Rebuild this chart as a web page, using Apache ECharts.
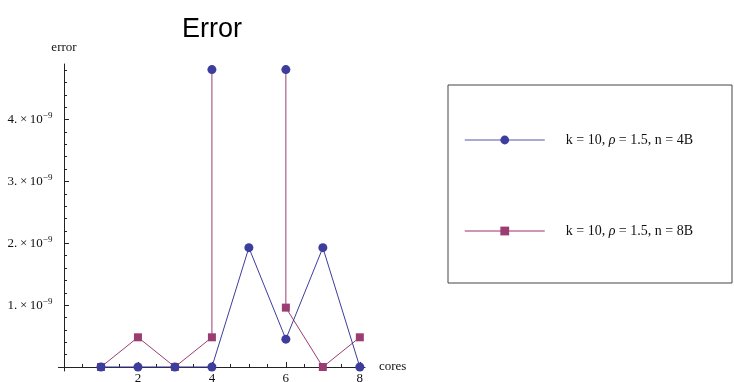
<!DOCTYPE html>
<html>
<head>
<meta charset="utf-8">
<script src="https://cdn.jsdelivr.net/npm/echarts@6/dist/echarts.min.js"></script>
<style>
  html, body { margin: 0; padding: 0; background: #fff; }
  #chart { width: 734px; height: 382px; }
</style>
</head>
<body>
<div id="chart"></div>
<script>
// Error per number of cores, two problem sizes
const cores = [1, 2, 3, 4, 5, 6, 7, 8];
const error4B = [0, 0, 0, 0, 1.93e-9, 0.45e-9, 1.93e-9, 0];
const error8B = [0, 0.48e-9, 0, 0.48e-9, null, 0.96e-9, 0, 0.48e-9];
// spikes: [core, low, high]
const spikes = [[4, 0.48e-9, 4.81e-9], [6, 0.96e-9, 4.81e-9]];
const seriesNames = ['k = 10, \u03c1 = 1.5, n = 4B', 'k = 10, \u03c1 = 1.5, n = 8B'];
const yMajor = [1e-9, 2e-9, 3e-9, 4e-9];
const xMajor = [2, 4, 6, 8];

const blue = '#3d3d9e';
const pink = '#9b3d72';
const blueLight = '#8c8cc8';
const pinkLight = '#c0709c';
const serif = 'Liberation Serif';

const yMinor = [];
for (let k = 1; k <= 24; k++) { if (k % 5 !== 0) yMinor.push(k * 0.2e-9); }
const xMinor = [];
for (let k = 1; k <= 16; k++) { if (k % 4 !== 0) xMinor.push(k * 0.5); }

const spikeData = [];
spikes.forEach((s, i) => {
  if (i > 0) spikeData.push([s[0], null]);
  spikeData.push({ value: [s[0], s[1]], symbol: 'none' });
  spikeData.push({ value: [s[0], s[2]] });
});

const yMin = -0.065e-9, yMax = 4.9e-9;
const xMin = -0.15, xMax = 8.14;

const chart = echarts.init(document.getElementById('chart'), null, { renderer: 'canvas' });

chart.setOption({
  animation: false,
  backgroundColor: '#fff',
  title: {
    text: 'Error', left: 207, top: 11, textAlign: 'center',
    textStyle: { fontFamily: 'Liberation Sans', fontSize: 27, fontWeight: 'normal', color: '#000' }
  },
  grid: { left: 58.45, right: 734 - 365, top: 64, bottom: 11, containLabel: false, outerBoundsMode: 'none' },
  legend: {
    data: [
      { name: seriesNames[0], lineStyle: { color: blueLight, width: 1.5 } },
      { name: seriesNames[1], lineStyle: { color: pinkLight, width: 1.5 } }
    ],
    orient: 'vertical',
    left: 448, top: 85,
    padding: [48, 39, 45, 16],
    itemGap: 77,
    itemWidth: 80, itemHeight: 11,
    borderColor: '#444', borderWidth: 1,
    selectedMode: false,
    textStyle: {
      fontFamily: serif, fontSize: 14, color: '#111', padding: [0, 0, 0, 16],
      rich: { i: { fontFamily: serif, fontStyle: 'italic', fontSize: 14, color: '#111' } }
    },
    formatter: name => name.replace('\u03c1', '{i|\u03c1}')
  },
  xAxis: [{
    type: 'value', min: xMin, max: xMax,
    name: 'cores', nameLocation: 'end', nameGap: 14,
    nameTextStyle: { fontFamily: serif, fontSize: 13, color: '#111', verticalAlign: 'middle' },
    axisLine: { onZero: true, lineStyle: { color: '#222', width: 1 } },
    axisTick: { inside: true, length: 5, customValues: xMajor, lineStyle: { color: '#222' } },
    axisLabel: { customValues: xMajor, margin: 1, fontFamily: serif, fontSize: 13, color: '#111' },
    splitLine: { show: false }
  }, {
    type: 'value', min: xMin, max: xMax, position: 'bottom',
    axisLine: { show: false, onZero: true },
    axisTick: { inside: true, length: 3, customValues: xMinor, lineStyle: { color: '#222' } },
    axisLabel: { show: false }, splitLine: { show: false }
  }],
  yAxis: [{
    type: 'value', min: yMin, max: yMax,
    name: 'error', nameLocation: 'end', nameGap: 10,
    nameTextStyle: { fontFamily: serif, fontSize: 13, color: '#111', align: 'center' },
    axisLine: { onZero: true, lineStyle: { color: '#222', width: 1 } },
    axisTick: { inside: true, length: 5, customValues: yMajor, lineStyle: { color: '#222' } },
    axisLabel: {
      customValues: yMajor, margin: 6,
      formatter: v => '{b|' + Math.round(v / 1e-9) + '.\u2009\u00d7\u200910}{s|\u22129}',
      rich: {
        b: { fontFamily: serif, fontSize: 13, color: '#111' },
        s: { fontFamily: serif, fontSize: 9, color: '#111', padding: [0, 0, 8, 0] }
      }
    },
    splitLine: { show: false }
  }, {
    type: 'value', min: yMin, max: yMax, position: 'left',
    axisLine: { show: false, onZero: true },
    axisTick: { inside: true, length: 3, customValues: yMinor, lineStyle: { color: '#222' } },
    axisLabel: { show: false }, splitLine: { show: false }
  }],
  series: [{
    name: seriesNames[1], type: 'line',
    data: cores.map((c, i) => [c, error8B[i]]),
    connectNulls: false,
    symbol: 'rect', symbolSize: 8,
    lineStyle: { color: pink, width: 1 },
    itemStyle: { color: pink },
    z: 2
  }, {
    name: 'spikes', type: 'line',
    data: spikeData,
    connectNulls: false,
    symbol: 'circle', symbolSize: 9,
    lineStyle: { color: pink, width: 1 },
    itemStyle: { color: blue },
    z: 2
  }, {
    name: seriesNames[0], type: 'line',
    data: cores.map((c, i) => [c, error4B[i]]),
    symbol: 'circle', symbolSize: 9,
    lineStyle: { color: blue, width: 1 },
    itemStyle: { color: blue },
    z: 3
  }]
});
</script>
</body>
</html>
